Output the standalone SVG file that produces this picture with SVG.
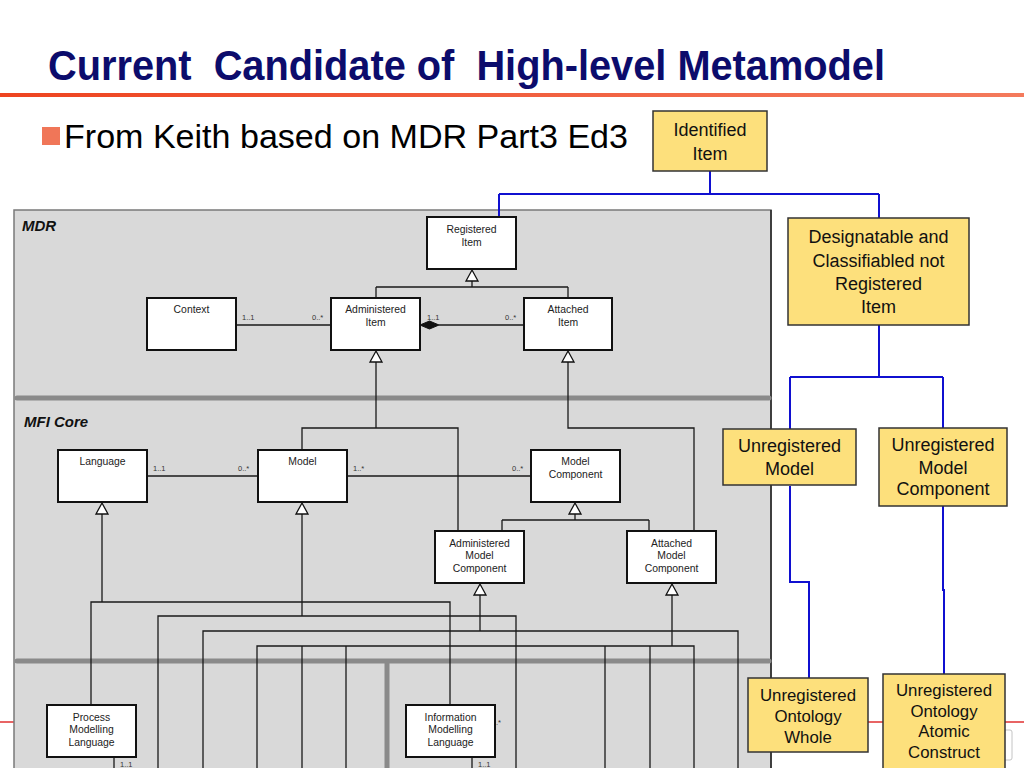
<svg xmlns="http://www.w3.org/2000/svg" width="1024" height="768" viewBox="0 0 1024 768">
<style>
.title{font-family:"Liberation Sans",Arial,sans-serif;font-weight:bold;font-size:43px;fill:#0c0c6c;white-space:pre}
.sub{font-family:"Liberation Sans",Arial,sans-serif;font-size:33px;fill:#000}
.ybox{fill:#fde07c;stroke:#333;stroke-width:1.5}
.yt{font-family:"Liberation Sans",Arial,sans-serif;font-size:18px;fill:#111;text-anchor:middle}
.yt2{font-family:"Liberation Sans",Arial,sans-serif;font-size:16.8px;fill:#111;text-anchor:middle}
.wbox{fill:#fff;stroke:#111;stroke-width:2}
.wt{font-family:"Liberation Sans",Arial,sans-serif;font-size:10.4px;fill:#222;text-anchor:middle}
.mult{font-family:"Liberation Sans",Arial,sans-serif;font-size:7.5px;fill:#333}
.pkg{font-family:"Liberation Sans",Arial,sans-serif;font-size:15px;font-weight:bold;font-style:italic;fill:#111}
.ln{fill:none;stroke:#1a1a1a;stroke-width:1.3}
.blue{fill:none;stroke:#1010d0;stroke-width:2}
.sep{fill:none;stroke:#8a8a8a;stroke-width:5;stroke-linecap:round}
.tri{fill:#fff;stroke:#111;stroke-width:1.3}
</style>
<defs>
<linearGradient id="og" x1="0" y1="0" x2="1" y2="0">
<stop offset="0" stop-color="#ee4420"/>
<stop offset="1" stop-color="#f47a5c"/>
</linearGradient>
<path id="tri" class="tri" d="M0,0 L6,11 L-6,11 Z"/>
</defs>
<rect width="1024" height="768" fill="#fff"/>
<!-- header -->
<text class="title" x="48" y="80" xml:space="preserve" textLength="837" lengthAdjust="spacingAndGlyphs">Current  Candidate of  High-level Metamodel</text>
<rect x="0" y="93" width="1024" height="4" fill="url(#og)"/>
<rect x="42" y="127" width="18" height="18" fill="#f07658"/>
<text class="sub" x="64" y="148" textLength="564" lengthAdjust="spacingAndGlyphs">From Keith based on MDR Part3 Ed3</text>
<!-- footer line & page box -->
<line x1="0" y1="722" x2="1024" y2="722" stroke="#e03030" stroke-width="1.5"/>
<rect x="985" y="730" width="27" height="30" rx="2" fill="none" stroke="#c4c4c4" stroke-width="1"/>
<!-- package panel -->
<g id="panel">
<rect x="14" y="210" width="757" height="570" fill="#d9d9d9" stroke="#7a7a7a" stroke-width="1.5"/>
<line x1="771" y1="210" x2="771" y2="768" stroke="#222" stroke-width="1.5"/>
<path class="sep" d="M17,398 H769 M17,661 H769 M387,661 V770"/>
<text class="pkg" x="22" y="231">MDR</text>
<text class="pkg" x="24" y="427">MFI Core</text>
</g>
<!-- connectors -->
<g id="connectors">
<path class="ln" d="M472,281 V287 M376,287 H568 M376,287 V298 M568,287 V298"/>
<path class="ln" d="M376,362 V428 H302 V450 M376,428 H458 V531"/>
<path class="ln" d="M568,362 V428 H694 V531"/>
<path class="ln" d="M236,325 H331 M439,325 H524 M147,476 H258 M347,476 H531"/>
<path d="M420,325 L429.5,321 L439,325 L429.5,329 Z" fill="#111" stroke="#111" stroke-width="1"/>
<path class="ln" d="M102,514 V602 M302,514 V616 M575,514 V520 M502,520 H649 M502,520 V531 M649,520 V531 M480,595 V631 M672,595 V646"/>
<path class="ln" d="M91,705 V602 H450 V705 M158,770 V616 H516 V770 M203,770 V631 H738 V770 M257,770 V646 H694 V770 M302,646 V770 M346,646 V770 M605,646 V770 M650,646 V770 M114,757 V770 M472,757 V770"/>
<use href="#tri" x="472" y="270"/>
<use href="#tri" x="376" y="351"/>
<use href="#tri" x="568" y="351"/>
<use href="#tri" x="102" y="503"/>
<use href="#tri" x="302" y="503"/>
<use href="#tri" x="575" y="503"/>
<use href="#tri" x="480" y="584"/>
<use href="#tri" x="672" y="584"/>
<text class="mult" x="242" y="320">1..1</text>
<text class="mult" x="312" y="320">0..*</text>
<text class="mult" x="427" y="320">1..1</text>
<text class="mult" x="505" y="320">0..*</text>
<text class="mult" x="153" y="471">1..1</text>
<text class="mult" x="238" y="471">0..*</text>
<text class="mult" x="353" y="471">1..*</text>
<text class="mult" x="512" y="471">0..*</text>
<text class="mult" x="120" y="767">1..1</text>
<text class="mult" x="478" y="767">1..1</text>
<text class="mult" x="496" y="725">.*</text>
<path class="blue" d="M710,171 V194 M499,194 H879 M499,194 V217 M879,194 V218"/>
<path class="blue" d="M879,325 V377 M790,377 H943 M790,377 V429 M943,377 V428"/>
<path class="blue" d="M790,486 V582 H809 V678 M943,506 V590 H944 V674"/>
</g>
<!-- white UML nodes -->
<g id="registered-item"><rect class="wbox" x="427" y="217" width="89" height="52"/><text class="wt" x="471.5" y="233">Registered</text><text class="wt" x="471.5" y="245.5">Item</text></g>
<g id="context"><rect class="wbox" x="147" y="298" width="89" height="52"/><text class="wt" x="191.5" y="313">Context</text></g>
<g id="administered-item"><rect class="wbox" x="331" y="298" width="89" height="52"/><text class="wt" x="375.5" y="313">Administered</text><text class="wt" x="375.5" y="325.5">Item</text></g>
<g id="attached-item"><rect class="wbox" x="524" y="298" width="88" height="52"/><text class="wt" x="568" y="313">Attached</text><text class="wt" x="568" y="325.5">Item</text></g>
<g id="language"><rect class="wbox" x="58" y="450" width="89" height="52"/><text class="wt" x="102.5" y="464.5">Language</text></g>
<g id="model"><rect class="wbox" x="258" y="450" width="89" height="52"/><text class="wt" x="302.5" y="465">Model</text></g>
<g id="model-component"><rect class="wbox" x="531" y="450" width="89" height="52"/><text class="wt" x="575.5" y="465">Model</text><text class="wt" x="575.5" y="477.5">Component</text></g>
<g id="administered-model-component"><rect class="wbox" x="435" y="531" width="89" height="52"/><text class="wt" x="479.5" y="546.5">Administered</text><text class="wt" x="479.5" y="559">Model</text><text class="wt" x="479.5" y="571.5">Component</text></g>
<g id="attached-model-component"><rect class="wbox" x="627" y="531" width="89" height="52"/><text class="wt" x="671.5" y="546.5">Attached</text><text class="wt" x="671.5" y="559">Model</text><text class="wt" x="671.5" y="571.5">Component</text></g>
<g id="process-modelling-language"><rect class="wbox" x="47" y="705" width="89" height="52"/><text class="wt" x="91.5" y="720.5">Process</text><text class="wt" x="91.5" y="733">Modelling</text><text class="wt" x="91.5" y="745.5">Language</text></g>
<g id="information-modelling-language"><rect class="wbox" x="406" y="705" width="89" height="52"/><text class="wt" x="450.5" y="720.5">Information</text><text class="wt" x="450.5" y="733">Modelling</text><text class="wt" x="450.5" y="745.5">Language</text></g>
<!-- yellow nodes -->
<g id="identified-item"><rect class="ybox" x="653" y="111" width="114" height="60"/><text class="yt" x="710" y="136">Identified</text><text class="yt" x="710" y="160">Item</text></g>
<g id="designatable"><rect class="ybox" x="788" y="218" width="181" height="107"/><text class="yt" x="878.5" y="243">Designatable and</text><text class="yt" x="878.5" y="267">Classifiabled not</text><text class="yt" x="878.5" y="290">Registered</text><text class="yt" x="878.5" y="313">Item</text></g>
<g id="unregistered-model"><rect class="ybox" x="723" y="429" width="133" height="56"/><text class="yt" x="789.5" y="452">Unregistered</text><text class="yt" x="789.5" y="475">Model</text></g>
<g id="unregistered-model-component"><rect class="ybox" x="879" y="428" width="128" height="78"/><text class="yt" x="943" y="451">Unregistered</text><text class="yt" x="943" y="473.5">Model</text><text class="yt" x="943" y="495">Component</text></g>
<g id="unregistered-ontology-whole"><rect class="ybox" x="748" y="678" width="120" height="74"/><text class="yt2" x="808" y="701">Unregistered</text><text class="yt2" x="808" y="722">Ontology</text><text class="yt2" x="808" y="743">Whole</text></g>
<g id="unregistered-ontology-atomic-construct"><rect class="ybox" x="883" y="674" width="122" height="100"/><text class="yt2" x="944" y="696">Unregistered</text><text class="yt2" x="944" y="716.5">Ontology</text><text class="yt2" x="944" y="737">Atomic</text><text class="yt2" x="944" y="758">Construct</text></g>
</svg>
